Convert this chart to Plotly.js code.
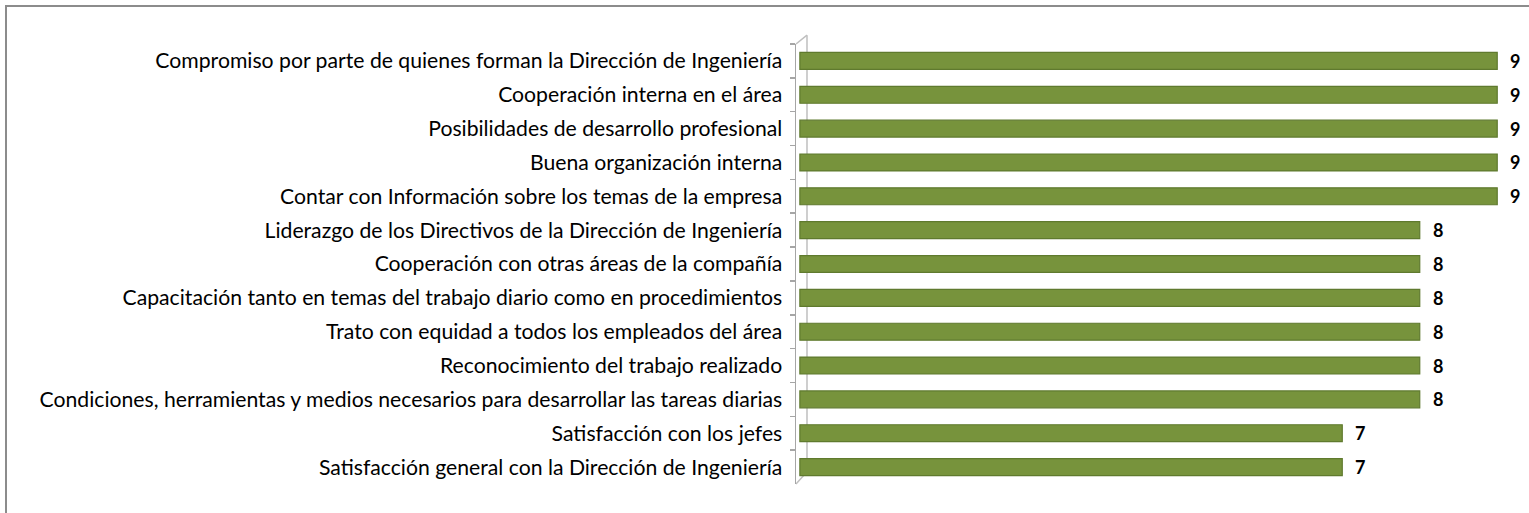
<!DOCTYPE html>
<html>
<head>
<meta charset="utf-8">
<script src="https://cdn.plot.ly/plotly-3.0.1.min.js"></script>
<style>
html,body{margin:0;padding:0;background:#fff;}
#wrap{position:relative;width:1529px;height:513px;overflow:hidden;}
#chart{width:1529px;height:513px;}
#frame{position:absolute;left:5px;top:5px;width:3000px;height:3000px;border-left:2px solid #8c8c8c;border-top:2px solid #8c8c8c;pointer-events:none;}
</style>
</head>
<body>
<div id="wrap"><div id="chart"></div><div id="frame"></div></div>
<script>
const categories = [
  "Compromiso por parte de quienes forman la Dirección de Ingeniería",
  "Cooperación interna en el área",
  "Posibilidades de desarrollo profesional",
  "Buena organización interna",
  "Contar con Información sobre los temas de la empresa",
  "Liderazgo de los Directivos de la Dirección de Ingeniería",
  "Cooperación con otras áreas de la compañía",
  "Capacitación tanto en temas del trabajo diario como en procedimientos",
  "Trato con equidad a todos los empleados del área",
  "Reconocimiento del trabajo realizado",
  "Condiciones, herramientas y medios necesarios para desarrollar las tareas diarias",
  "Satisfacción con los jefes",
  "Satisfacción general con la Dirección de Ingeniería"
];
const values = [9, 9, 9, 9, 9, 8, 8, 8, 8, 8, 8, 7, 7];

const FONT = "Lato, 'Open Sans', sans-serif";

const trace = {
  type: "bar",
  orientation: "h",
  y: categories,
  x: values,
  width: 0.5,
  marker: {color: "#77933C", line: {color: "#5f7a2e", width: 1.2}},
  hoverinfo: "skip"
};

const annotations = values.map((v, i) => ({
  x: v, y: categories[i], xref: "x", yref: "y",
  text: String(v), showarrow: false, xanchor: "left", xshift: 11, yshift: 0,
  font: {family: FONT, size: 18, color: "#000", weight: 700}
}));

const layout = {
  width: 1529, height: 513,
  margin: {l: 796, r: 0, t: 44, b: 29},
  paper_bgcolor: "#fff", plot_bgcolor: "rgba(0,0,0,0)",
  showlegend: false,
  xaxis: {range: [-0.05, 9.41], visible: false, fixedrange: true},
  yaxis: {
    type: "category", autorange: "reversed",
    showline: true, linecolor: "#a6a6a6", linewidth: 1.5,
    ticks: "outside", tickson: "boundaries", ticklen: 5, tickcolor: "#a6a6a6", tickwidth: 1.5,
    showgrid: false, ticklabelstandoff: 8,
    tickfont: {family: FONT, size: 21.2, color: "#000"}
  },
  annotations: annotations,
  shapes: [
    {type: "line", layer: "below", xref: "paper", yref: "paper", x0: 0.015, x1: 0.015, y0: 0.028, y1: 1.02, line: {color: "#bfbfbf", width: 1.5}},
    {type: "line", layer: "below", xref: "paper", yref: "paper", x0: 0, x1: 0.015, y0: 1, y1: 1.02, line: {color: "#bfbfbf", width: 1.5}},
    {type: "line", layer: "below", xref: "paper", yref: "paper", x0: 0, x1: 0.015, y0: 0, y1: 0.028, line: {color: "#bfbfbf", width: 1.5}}
  ]
};

Plotly.newPlot("chart", [trace], layout, {staticPlot: true, displayModeBar: false});
</script>
</body>
</html>
